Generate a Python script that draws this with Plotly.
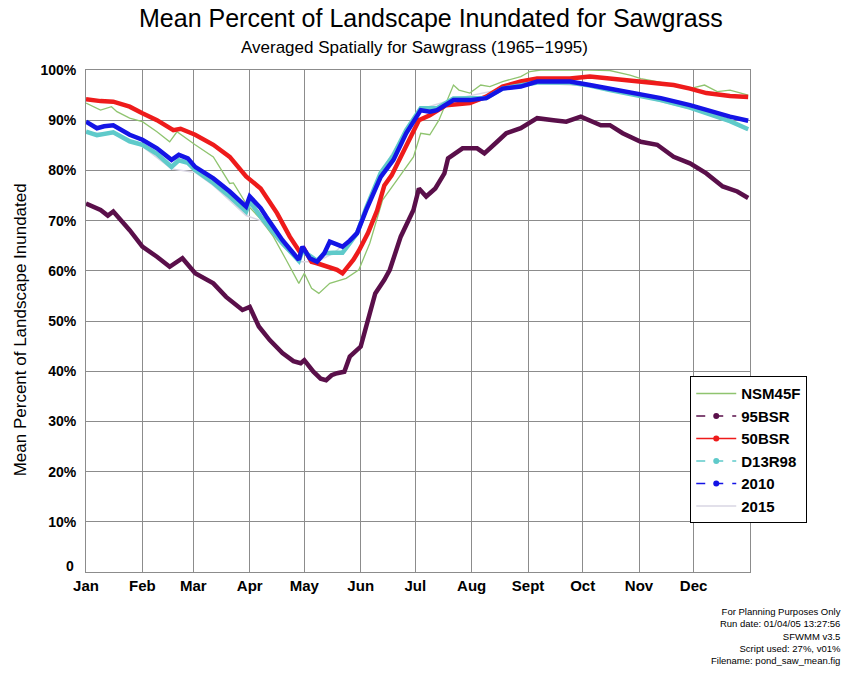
import plotly.graph_objects as go

# ---------------- data (day of year, percent inundated) ----------------
MONTH_DAYS = [0, 31, 59, 90, 120, 151, 181, 212, 243, 273, 304, 334]
MONTH_LABELS = ["Jan", "Feb", "Mar", "Apr", "May", "Jun", "Jul", "Aug", "Sept", "Oct", "Nov", "Dec"]
Y_TICKS = [0, 10, 20, 30, 40, 50, 60, 70, 80, 90, 100]
Y_LABELS = ["", "10%", "20%", "30%", "40%", "50%", "60%", "70%", "80%", "90%", "100%"]
Y_ZERO_LABEL = "0"

nsm45f_days = [0, 8, 14, 17, 24, 31, 39, 46, 50, 60, 70, 79, 81, 88, 96, 103, 110, 117, 120, 124,
               128, 134, 143, 150, 156, 163, 171, 180, 184, 189, 194, 198, 202, 205, 211, 217, 222,
               229, 239, 244, 250, 277, 288, 299, 305, 314, 323, 332, 340, 347, 354, 364]
nsm45f_vals = [93.4, 92.0, 92.7, 91.7, 90.4, 89.7, 87.7, 85.7, 87.7, 85.1, 82.7, 77.4, 77.5, 73.4,
               70.3, 66.8, 62.2, 57.5, 59.5, 56.5, 55.5, 57.5, 58.5, 60.2, 65.5, 74.1, 78.1, 82.7,
               87.4, 87.1, 90.0, 93.4, 97.0, 96.0, 95.4, 97.0, 96.7, 97.7, 98.7, 99.7, 100.0, 100.0,
               99.9, 99.0, 98.3, 97.7, 97.0, 96.3, 97.0, 95.7, 96.0, 95.0]

bsr95_days = [0, 8, 12, 15, 24, 31, 39, 46, 53, 60, 70, 77, 86, 90, 95, 101, 108, 114, 118, 120,
              125, 129, 132, 135, 138, 142, 145, 151, 156, 159, 164, 167, 173, 177, 180, 183, 187,
              192, 197, 199, 207, 215, 219, 226, 231, 239, 248, 257, 264, 272, 277, 283, 288, 295,
              305, 314, 323, 332, 341, 350, 358, 364]
bsr95_vals = [73.4, 72.1, 71.0, 71.8, 68.1, 64.8, 62.8, 60.8, 62.5, 59.5, 57.5, 54.8, 52.2, 52.8,
              48.9, 46.2, 43.6, 42.0, 41.6, 42.2, 39.9, 38.5, 38.2, 39.2, 39.6, 39.9, 42.9, 44.9,
              51.5, 55.5, 58.2, 60.2, 66.8, 70.0, 72.1, 76.4, 74.8, 76.4, 79.4, 82.4, 84.4, 84.4,
              83.4, 85.7, 87.4, 88.4, 90.4, 90.0, 89.7, 90.7, 90.0, 89.0, 89.0, 87.4, 85.7, 85.1,
              82.7, 81.4, 79.4, 76.8, 75.8, 74.5]

bsr50_days = [0, 8, 15, 24, 31, 39, 48, 52, 60, 70, 79, 88, 96, 105, 112, 118, 120, 124, 127, 132,
              138, 141, 147, 150, 155, 160, 164, 168, 172, 178, 183, 189, 198, 211, 220, 229, 239,
              248, 266, 277, 288, 305, 323, 332, 341, 354, 364]
bsr50_vals = [94.2, 93.8, 93.7, 92.7, 91.4, 90.0, 88.0, 88.3, 87.1, 85.1, 82.7, 78.8, 76.4, 71.5,
              66.8, 63.5, 64.3, 61.8, 61.5, 60.8, 60.2, 59.5, 62.2, 64.0, 67.5, 72.0, 77.0, 79.0,
              82.0, 86.1, 90.0, 91.0, 93.0, 93.4, 94.7, 96.7, 97.7, 98.3, 98.3, 98.7, 98.3, 97.7,
              97.0, 96.3, 95.4, 94.8, 94.6]

d13r98_days = [0, 6, 15, 24, 31, 39, 47, 51, 56, 60, 70, 79, 88, 90, 96, 108, 117, 119, 127, 131,
               136, 141, 145, 149, 154, 162, 169, 176, 184, 193, 202, 220, 229, 248, 266, 277, 288,
               305, 316, 332, 341, 354, 364]
d13r98_vals = [87.7, 87.0, 87.6, 85.8, 85.1, 83.3, 80.7, 82.0, 81.5, 80.1, 77.5, 74.8, 71.8, 73.8,
               70.8, 65.5, 62.0, 64.0, 62.0, 63.5, 63.6, 63.6, 65.5, 67.5, 72.5, 79.5, 83.0, 88.0,
               92.4, 92.4, 94.3, 94.4, 96.3, 97.5, 97.5, 96.9, 96.0, 94.8, 94.0, 92.5, 91.3, 89.8,
               88.2]

y2010_days = [0, 6, 10, 15, 24, 31, 39, 47, 51, 56, 60, 70, 79, 88, 90, 96, 99, 108, 114, 117, 119,
              123, 127, 131, 134, 136, 141, 145, 149, 154, 158, 162, 169, 176, 184, 189, 193, 202,
              211, 220, 229, 239, 248, 266, 277, 288, 305, 316, 332, 341, 354, 364]
y2010_vals = [89.7, 88.4, 88.8, 89.0, 87.1, 86.1, 84.4, 82.1, 83.1, 82.4, 80.7, 78.4, 75.8, 72.8,
              74.8, 72.5, 70.8, 66.1, 63.5, 62.2, 64.8, 62.5, 61.8, 63.5, 65.8, 65.5, 64.8, 66.0,
              67.5, 72.1, 75.5, 78.7, 82.1, 87.4, 92.0, 91.7, 92.0, 94.0, 94.0, 94.4, 96.3, 96.7,
              97.7, 97.7, 97.0, 96.3, 95.0, 94.4, 93.0, 92.0, 90.7, 89.9]

y2015_days = [0, 15, 31, 47, 60, 70, 79, 88, 96, 108, 117, 127, 136, 149, 162, 176, 184, 202, 229,
              248, 277, 305, 332, 354, 364]
y2015_vals = [87.5, 87.3, 84.8, 80.3, 79.6, 77.0, 74.0, 71.0, 70.0, 65.0, 61.8, 61.8, 63.5, 67.5,
              79.5, 88.0, 92.2, 94.2, 96.2, 97.4, 96.8, 94.7, 92.3, 89.6, 88.0]

FONT = "Arial, Liberation Sans, sans-serif"

fig = go.Figure()

# data traces (drawn without legend)
series = [
    ("2015", y2015_days, y2015_vals, "#d9d6e3", 1.5),
    ("NSM45F", nsm45f_days, nsm45f_vals, "#8fc46f", 1.3),
    ("95BSR", bsr95_days, bsr95_vals, "#5a0f4a", 4.5),
    ("50BSR", bsr50_days, bsr50_vals, "#ee1b1b", 4.5),
    ("D13R98", d13r98_days, d13r98_vals, "#5fcaca", 4.5),
    ("2010", y2010_days, y2010_vals, "#1414e6", 4.5),
]
for name, xs, ys, col, w in series:
    fig.add_trace(go.Scatter(x=xs, y=ys, mode="lines", name=name, showlegend=False,
                             line=dict(color=col, width=w), hoverinfo="x+y"))

# legend entries
legend_items = [
    ("NSM45F", "#8fc46f", "solid", False),
    ("95BSR", "#5a0f4a", "dash", True),
    ("50BSR", "#ee1b1b", "solid", True),
    ("D13R98", "#5fcaca", "dash", True),
    ("2010", "#1414e6", "dash", True),
    ("2015", "#d9d6e3", "solid", False),
]
for name, col, dash, mk in legend_items:
    fig.add_trace(go.Scatter(x=[None], y=[None], name=name,
                             mode="lines+markers" if mk else "lines",
                             line=dict(color=col, width=1.5, dash=dash),
                             marker=dict(color=col, size=6)))

fig.update_layout(
    width=845, height=677,
    margin=dict(l=86, r=95, t=70, b=105),
    paper_bgcolor="white", plot_bgcolor="white",
    font=dict(family=FONT, color="black"),
    xaxis=dict(range=[0, 365], tickvals=MONTH_DAYS, ticktext=MONTH_LABELS,
               showgrid=True, gridcolor="#8c8c8c", gridwidth=1,
               showline=True, linecolor="#8c8c8c", mirror=True, zeroline=False,
               tickfont=dict(size=15, family=FONT, weight="bold"), ticks=""),
    yaxis=dict(range=[0, 100], tickvals=Y_TICKS, ticktext=Y_LABELS,
               showgrid=True, gridcolor="#8c8c8c", gridwidth=1,
               showline=True, linecolor="#8c8c8c", mirror=True, zeroline=False,
               ticklabelstandoff=6,
               tickfont=dict(size=14, family=FONT, weight="bold"), ticks=""),
    legend=dict(x=0.91, y=0.39, xanchor="left", yanchor="top",
                bgcolor="white", bordercolor="black", borderwidth=1,
                font=dict(size=15, family=FONT, weight="bold"),
                tracegroupgap=0, itemwidth=40),
    showlegend=True,
)

fig.add_annotation(text=Y_ZERO_LABEL, xref="paper", yref="y", x=-0.015, y=1.2,
                   xanchor="right", yanchor="middle", showarrow=False,
                   font=dict(size=14, family=FONT, weight="bold"))
fig.add_annotation(text="Mean Percent of Landscape Inundated for Sawgrass",
                   xref="paper", yref="paper", x=0.52, y=1.104, xanchor="center", yanchor="middle",
                   showarrow=False, font=dict(size=25, family=FONT))
fig.add_annotation(text="Averaged Spatially for Sawgrass (1965\u22121995)",
                   xref="paper", yref="paper", x=0.495, y=1.044, xanchor="center", yanchor="middle",
                   showarrow=False, font=dict(size=17, family=FONT))
fig.add_annotation(text="Mean Percent of Landscape Inundated",
                   xref="paper", yref="paper", x=-0.099, y=0.482, xanchor="center", yanchor="middle",
                   textangle=-90, showarrow=False, font=dict(size=17, family=FONT))
fig.add_annotation(text="For Planning Purposes Only<br>Run date: 01/04/05 13:27:56<br>SFWMM v3.5"
                        "<br>Script used: 27%, v01%<br>Filename: pond_saw_mean.fig",
                   xref="paper", yref="paper", x=1.14, y=-0.064, xanchor="right", yanchor="top",
                   align="right", showarrow=False, font=dict(size=9.5, family=FONT))

fig.write_html("out.html", config={"displayModeBar": False},
               post_script="document.body.style.margin='0px';")
